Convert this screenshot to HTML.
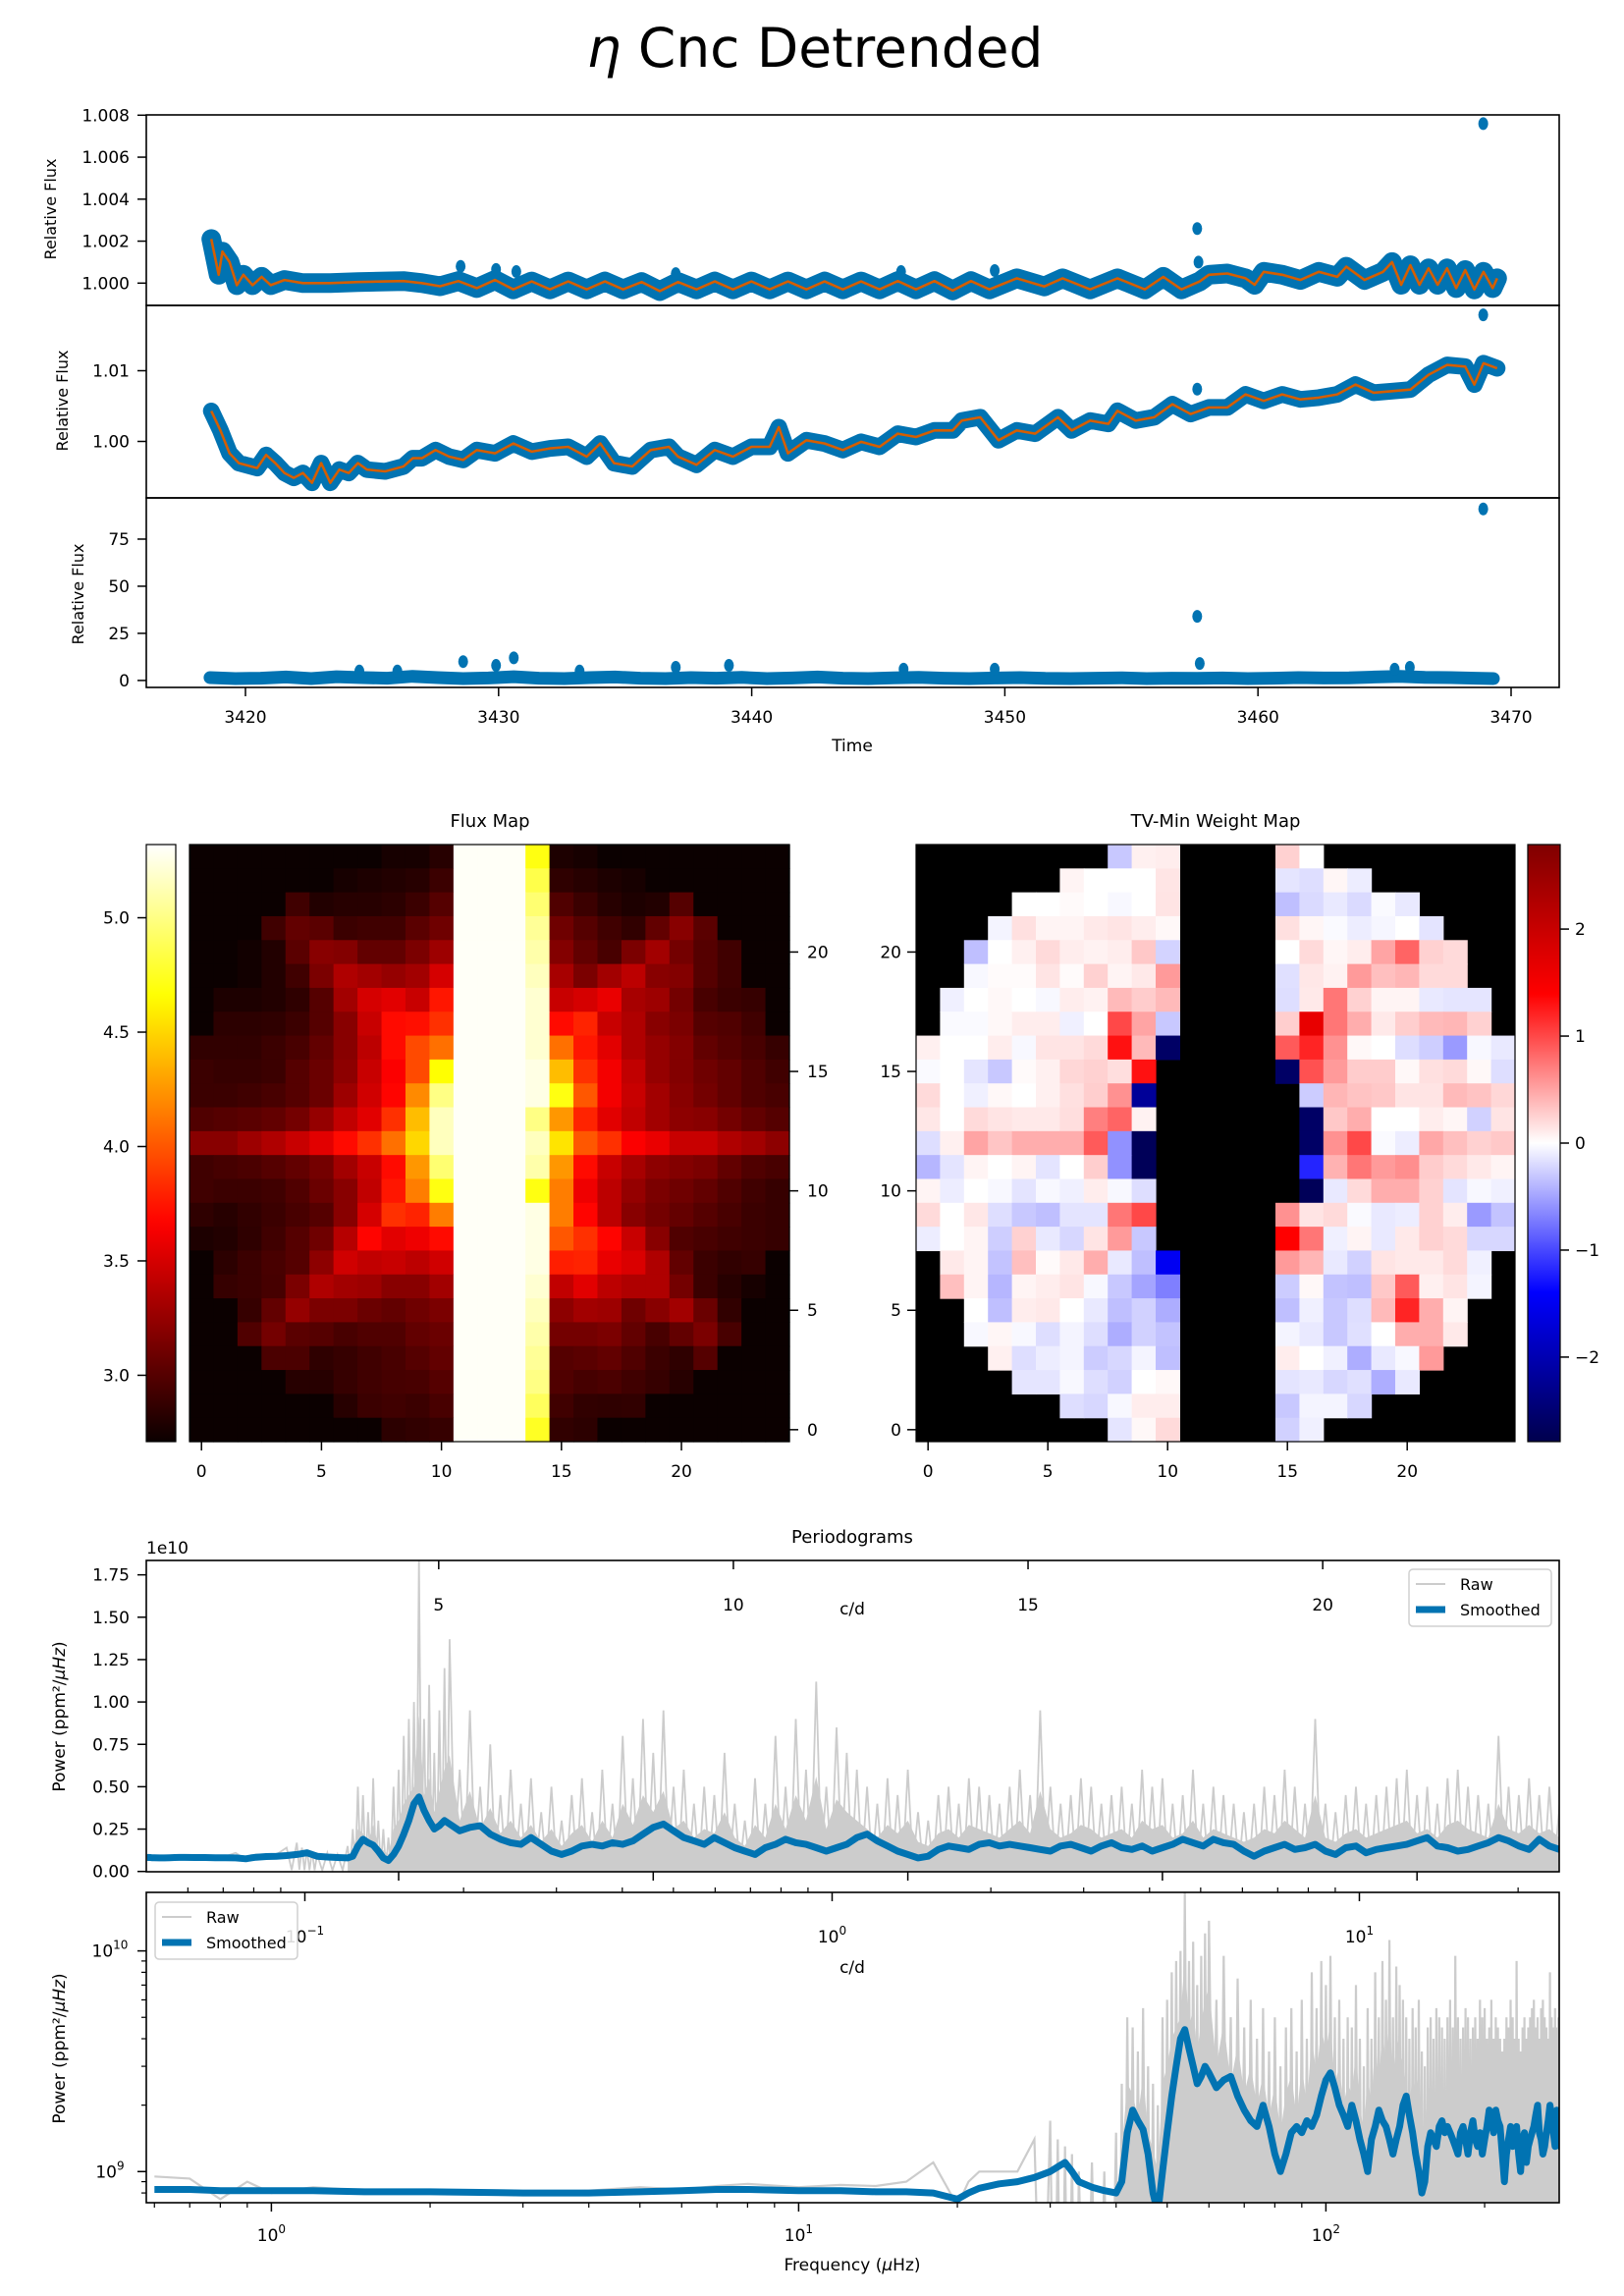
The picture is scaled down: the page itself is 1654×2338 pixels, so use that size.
<!DOCTYPE html>
<html><head><meta charset="utf-8"><title>eta Cnc Detrended</title>
<style>
html,body{margin:0;padding:0;width:1654px;height:2338px;overflow:hidden;background:#fff}
svg{display:block;font-family:"DejaVu Sans","Liberation Sans",sans-serif}
</style></head>
<body>
<svg id="fig" xmlns="http://www.w3.org/2000/svg" width="1654" height="2338" viewBox="0 0 1654 2338">
<defs>
<clipPath id="c1"><rect x="149" y="117" width="1439" height="194"/></clipPath>
<clipPath id="c2"><rect x="149" y="311" width="1439" height="196"/></clipPath>
<clipPath id="c3"><rect x="149" y="507" width="1439" height="193"/></clipPath>
<clipPath id="cpa"><rect x="149" y="1589" width="1439" height="317"/></clipPath>
<clipPath id="cpb"><rect x="149" y="1927" width="1439" height="316"/></clipPath>
</defs>
<rect x="0" y="0" width="1654" height="2338" fill="#fff"/>
<text x="830" y="68" font-size="55" text-anchor="middle"><tspan font-style="italic">η</tspan> Cnc Detrended</text>
<text x="868" y="765" font-size="17" text-anchor="middle">Time</text>
<text x="499" y="842" font-size="18" text-anchor="middle">Flux Map</text>
<text x="1238" y="842" font-size="18" text-anchor="middle">TV-Min Weight Map</text>
<text x="868" y="1571" font-size="18" text-anchor="middle">Periodograms</text>
<text x="149" y="1582" font-size="17">1e10</text>
<text x="868" y="1644" font-size="17" text-anchor="middle">c/d</text>
<text x="868" y="2009" font-size="17" text-anchor="middle">c/d</text>
<text x="868" y="2312" font-size="17" text-anchor="middle">Frequency (<tspan font-style="italic">μ</tspan>Hz)</text>
<text transform="translate(66,1748) rotate(-90)" font-size="17" text-anchor="middle">Power (ppm²/<tspan font-style="italic">μHz</tspan>)</text>
<text transform="translate(66,2086) rotate(-90)" font-size="17" text-anchor="middle">Power (ppm²/<tspan font-style="italic">μHz</tspan>)</text>
<text transform="translate(57,213) rotate(-90)" font-size="16" text-anchor="middle">Relative Flux</text>
<text transform="translate(69,408) rotate(-90)" font-size="16" text-anchor="middle">Relative Flux</text>
<text transform="translate(85,605) rotate(-90)" font-size="16" text-anchor="middle">Relative Flux</text>
</svg>
<script>
// ---------------- DATA ----------------
const lc1Times=[3418.65,3418.94,3419.09,3419.37,3419.66,3419.92,3420.28,3420.64,3421.0,3421.54,3422.27,3423.35,3424.44,3425.52,3426.24,3426.97,3427.69,3428.41,3429.14,3429.86,3430.58,3431.31,3432.03,3432.75,3433.48,3434.2,3434.92,3435.65,3436.37,3437.09,3437.82,3438.54,3439.26,3439.99,3440.71,3441.43,3442.16,3442.88,3443.6,3444.32,3445.05,3445.77,3446.49,3447.22,3447.94,3448.66,3449.39,3450.47,3451.56,3452.28,3453.37,3454.45,3455.53,3456.26,3456.98,3457.7,3458.06,3458.79,3459.51,3459.87,3460.23,3460.96,3461.68,3462.4,3463.13,3463.49,3464.21,3464.94,3465.3,3465.66,3466.02,3466.38,3466.74,3467.1,3467.47,3467.83,3468.19,3468.55,3468.91,3469.27,3469.45];
const lc1Values=[2.1,0.4,1.5,1.0,-0.1,0.4,-0.1,0.3,-0.1,0.15,0.0,0.0,0.05,0.08,0.1,0.0,-0.15,0.1,-0.24,0.15,-0.3,0.08,-0.3,0.08,-0.3,0.08,-0.3,0.05,-0.38,0.05,-0.3,0.08,-0.3,0.08,-0.3,0.08,-0.3,0.08,-0.3,0.08,-0.3,0.1,-0.3,0.1,-0.35,0.1,-0.3,0.23,-0.16,0.23,-0.3,0.23,-0.3,0.3,-0.3,0.08,0.4,0.46,0.23,-0.08,0.54,0.4,0.15,0.54,0.3,0.78,0.15,0.54,1.0,-0.08,0.85,-0.08,0.7,-0.08,0.7,-0.24,0.62,-0.3,0.54,-0.24,0.23];
const lc1OutTimes=[3428.5,3429.9,3430.7,3437.0,3445.9,3449.6,3457.6,3457.65,3468.9];
const lc1OutValues=[0.8,0.65,0.55,0.45,0.55,0.6,2.6,1.0,7.6];
const lc2Times=[3418.65,3419.01,3419.37,3419.74,3420.46,3420.82,3421.18,3421.54,3421.91,3422.27,3422.63,3422.99,3423.35,3423.71,3424.08,3424.44,3424.8,3425.52,3426.24,3426.61,3426.97,3427.51,3428.05,3428.6,3429.14,3429.86,3430.58,3431.31,3432.03,3432.75,3433.48,3434.02,3434.56,3435.28,3436.01,3436.73,3437.09,3437.82,3438.54,3439.26,3439.99,3440.71,3441.07,3441.43,3442.16,3442.88,3443.6,3444.32,3445.05,3445.77,3446.49,3447.22,3447.94,3448.3,3449.03,3449.75,3450.47,3451.2,3452.1,3452.64,3453.37,3454.09,3454.45,3455.17,3455.9,3456.62,3457.34,3458.07,3458.79,3459.51,3460.23,3460.96,3461.68,3462.4,3463.13,3463.85,3464.57,3465.3,3466.02,3466.74,3467.47,3468.19,3468.55,3468.91,3469.45];
const lc2Values=[4.31,1.56,-1.68,-3.07,-3.77,-1.92,-3.07,-4.46,-5.15,-4.46,-5.85,-3.07,-5.85,-3.99,-4.46,-3.07,-3.99,-4.23,-3.54,-2.38,-2.38,-1.22,-2.15,-2.61,-1.22,-1.68,-0.29,-1.45,-0.99,-0.76,-2.15,-0.29,-3.07,-3.54,-1.22,-0.76,-2.15,-3.31,-1.22,-2.15,-0.76,-0.76,2.02,-1.68,0.17,-0.29,-1.22,-0.06,-0.76,1.1,0.63,1.56,1.56,2.95,3.41,0.17,1.56,1.1,3.41,1.56,2.95,2.48,4.34,2.95,3.41,5.26,3.87,4.8,4.8,6.65,5.73,6.65,5.95,6.19,6.65,8.04,6.89,7.11,7.34,9.43,10.82,10.59,8.04,11.05,10.35];
const lc2OutTimes=[3457.6,3468.9];
const lc2OutValues=[7.4,17.9];
const lc3Times=[3418.6,3419.6,3420.6,3421.6,3422.6,3423.6,3424.6,3425.6,3426.6,3427.6,3428.6,3429.6,3430.6,3431.6,3432.6,3433.6,3434.6,3435.6,3436.6,3437.6,3438.6,3439.6,3440.6,3441.6,3442.6,3443.6,3444.6,3445.6,3446.6,3447.6,3448.6,3449.6,3450.6,3451.6,3452.6,3453.6,3454.6,3455.6,3456.6,3457.6,3458.6,3459.6,3460.6,3461.6,3462.6,3463.6,3464.6,3465.6,3466.6,3467.6,3468.6,3469.3];
const lc3Values=[1.5,1,1.2,1.8,1,2,1.5,1.2,2.2,1.5,1,1.3,2,1.2,1,1.5,1.8,1.2,1,1.5,1.2,1.6,1,1.3,1.8,1.2,1,1.4,1.6,1.2,1,1.3,1.5,1.1,1,1.2,1.4,1,1.2,1.1,1.3,1,1.2,1.5,1.3,1.4,1.8,2.2,1.6,1.5,1.2,1.0];
const lc3OutTimes=[3424.5,3426,3428.6,3429.9,3430.6,3433.2,3437,3439.1,3446,3449.6,3457.6,3457.7,3465.4,3466,3468.9];
const lc3OutValues=[5,5,10,8,12,5,7,8,6,6,34,9,6,7,91];
const timeTicks=[3420,3430,3440,3450,3460,3470];
const lc1Ticks=[0,2,4,6,8], lc1TickLabels=['1.000','1.002','1.004','1.006','1.008'];
const lc2Ticks=[0,10], lc2TickLabels=['1.00','1.01'];
const lc3Ticks=[0,25,50,75];

const B=2.7, W=5.3, _=null;
const fluxRows=[
[B,B,B,B,B,B,B,B,2.76,2.76,2.82,W,W,W,4.7,2.78,2.76,B,B,B,B,B,B,B,B],
[B,B,B,B,B,B,2.76,2.78,2.8,2.82,2.9,W,W,W,4.85,2.85,2.82,2.78,2.76,B,B,B,B,B,B],
[B,B,B,B,2.92,2.8,2.82,2.82,2.84,2.9,3.0,W,W,W,4.95,2.98,2.9,2.82,2.78,2.8,3.0,B,B,B,B],
[B,B,B,2.92,3.05,3.02,2.9,2.92,2.92,3.02,3.1,W,W,W,5.05,3.1,3.0,2.92,2.86,3.05,3.2,3.02,B,B,B],
[B,B,2.74,2.8,3.02,3.2,3.18,3.05,3.05,3.15,3.28,W,W,W,5.1,3.18,3.05,2.95,3.15,3.3,3.12,3.0,2.92,B,B],
[B,B,2.74,2.8,2.92,3.15,3.35,3.3,3.25,3.3,3.5,W,W,W,5.15,3.32,3.15,3.3,3.4,3.2,3.18,3.0,2.92,B,B],
[B,2.78,2.78,2.8,2.85,3.0,3.3,3.5,3.55,3.45,3.75,W,W,W,5.2,3.45,3.5,3.58,3.32,3.28,3.12,2.95,2.9,2.88,B],
[B,2.84,2.84,2.85,2.9,3.0,3.2,3.45,3.7,3.72,3.85,W,W,W,5.2,3.7,3.8,3.45,3.35,3.2,3.15,3.0,2.98,2.92,B],
[2.86,2.86,2.86,2.9,2.95,3.05,3.2,3.4,3.7,3.95,4.1,W,W,W,5.2,4.1,3.75,3.55,3.35,3.25,3.18,3.05,3.0,2.95,2.88],
[2.9,2.88,2.88,2.9,3.0,3.08,3.22,3.45,3.65,3.95,4.66,W,W,W,5.25,4.4,3.85,3.62,3.42,3.25,3.18,3.1,3.05,2.98,2.92],
[2.9,2.9,2.92,2.95,3.0,3.08,3.28,3.48,3.68,4.2,5.0,W,W,W,5.25,4.7,4.0,3.62,3.45,3.3,3.2,3.12,3.05,2.98,2.95],
[2.98,3.0,3.02,3.05,3.12,3.25,3.42,3.55,3.85,4.4,5.15,W,W,W,5.0,4.25,3.8,3.55,3.42,3.3,3.22,3.2,3.12,3.05,3.0],
[3.2,3.2,3.28,3.35,3.45,3.55,3.7,3.85,4.1,4.5,5.15,W,W,W,5.15,4.55,4.0,3.85,3.65,3.58,3.45,3.45,3.35,3.3,3.22],
[2.92,2.94,2.96,3.0,3.05,3.12,3.3,3.45,3.7,4.25,4.95,W,W,W,5.1,4.25,3.7,3.45,3.32,3.22,3.18,3.15,3.05,2.98,2.95],
[2.92,2.9,2.9,2.92,2.98,3.08,3.2,3.42,3.75,4.15,4.7,W,W,W,4.7,4.15,3.6,3.4,3.25,3.15,3.1,3.05,2.98,2.92,2.88],
[2.85,2.82,2.86,2.9,2.95,3.0,3.2,3.5,3.85,3.8,4.15,W,W,W,5.25,4.15,3.68,3.4,3.2,3.12,3.06,3.0,2.95,2.9,2.88],
[2.78,2.8,2.85,2.92,3.0,3.1,3.38,3.68,3.55,3.6,3.7,W,W,W,5.25,4.0,3.85,3.68,3.45,3.2,2.98,2.95,2.92,2.9,2.88],
[B,2.84,2.9,2.95,3.0,3.22,3.48,3.42,3.45,3.4,3.48,W,W,W,5.25,3.78,3.8,3.58,3.52,3.35,3.05,2.9,2.86,2.88,B],
[B,2.88,2.9,2.94,3.15,3.35,3.3,3.28,3.2,3.2,3.3,W,W,W,5.2,3.42,3.55,3.4,3.35,3.35,3.12,2.9,2.82,2.76,B],
[B,B,2.88,3.05,3.25,3.15,3.15,3.08,3.05,3.1,3.15,W,W,W,5.15,3.22,3.3,3.28,3.1,3.2,3.3,3.08,2.86,B,B],
[B,B,2.98,3.12,3.02,3.0,2.95,2.98,2.98,3.05,3.08,W,W,W,5.1,3.12,3.12,3.15,3.05,2.95,3.05,3.15,2.95,B,B],
[B,B,B,2.96,2.96,2.85,2.88,2.92,2.95,3.0,3.05,W,W,W,5.05,3.0,3.02,3.05,2.98,2.9,2.85,3.0,B,B,B],
[B,B,B,B,2.82,2.82,2.88,2.92,2.94,2.95,3.0,W,W,W,5.0,2.98,2.94,2.96,2.92,2.88,2.82,B,B,B,B],
[B,B,B,B,B,B,2.82,2.9,2.92,2.9,2.95,W,W,W,4.9,2.92,2.86,2.85,2.86,B,B,B,B,B,B],
[B,B,B,B,B,B,B,B,2.84,2.86,2.88,W,W,W,4.75,2.86,2.84,B,B,B,B,B,B,B,B]];
const fluxMin=2.71, fluxMax=5.32;
const fluxCbTicks=[3.0,3.5,4.0,4.5,5.0], fluxCbLabels=['3.0','3.5','4.0','4.5','5.0'];

const weightRows=[
[_,_,_,_,_,_,_,_,-.3,.08,.1,_,_,_,_,.25,0,_,_,_,_,_,_,_,_],
[_,_,_,_,_,_,.06,0,0,0,.14,_,_,_,_,-.14,-.18,.05,-.1,_,_,_,_,_,_],
[_,_,_,_,0,0,.03,0,-.04,0,.15,_,_,_,_,-.35,-.2,-.12,-.2,-.03,-.12,_,_,_,_],
[_,_,_,-.06,.17,.06,.06,.12,.15,.1,.04,_,_,_,_,.17,.05,-.03,-.1,-.05,0,-.15,_,_,_],
[_,_,-.35,0,.08,.2,.1,.07,.1,.3,-.24,_,_,_,_,0,.2,.05,.1,.5,.85,.25,.2,_,_],
[_,_,-.04,.02,.02,.15,.02,.25,.06,.12,.55,_,_,_,_,-.17,.13,.07,.55,.35,.4,.2,.2,_,_],
[_,-.08,0,.04,0,-.04,.1,.07,.38,.28,.38,_,_,_,_,-.18,.12,.75,.25,.06,.06,-.12,-.14,-.14,_],
[_,-.03,-.03,.04,.1,.1,-.08,0,1.0,.5,-.3,_,_,_,_,.27,1.65,.75,.45,.12,.27,.38,.4,.25,_],
[.08,0,0,.1,-.04,.15,.15,.2,1.3,.38,-2.6,_,_,_,_,.9,1.2,.6,.04,0,-.18,-.27,-.55,-.04,-.12],
[-.03,0,-.14,-.3,.03,.08,.22,.25,.18,1.3,_,_,_,_,_,-2.6,.95,.55,.28,.28,.04,.17,.2,.04,-.18],
[.2,0,-.08,.04,0,.08,.17,.27,.6,-2.2,_,_,_,_,_,_,-.28,.4,.33,.3,.15,.15,.38,.33,.22],
[.13,0,.2,.15,.12,.12,.18,.7,.85,.07,_,_,_,_,_,_,-2.6,.3,.45,0,0,.1,.05,-.25,.15],
[-.18,.08,.5,.32,.45,.45,.45,.9,-.6,-2.7,_,_,_,_,_,_,-2.6,.6,1.0,-.03,-.1,.48,.35,.25,.3],
[-.4,-.15,.06,0,.06,-.15,0,.27,-.6,-2.7,_,_,_,_,_,_,-1.2,.42,.75,.55,.62,.28,.2,.12,.06],
[.06,-.1,0,-.04,-.15,-.04,-.08,.1,-.04,-.18,_,_,_,_,_,_,-2.7,-.12,.2,.45,.45,.25,-.15,-.04,-.08],
[.2,0,.13,-.18,-.3,-.35,-.15,-.15,.75,1.0,_,_,_,_,_,.6,.15,.2,-.03,-.12,-.1,.25,.1,-.55,-.33],
[-.1,0,.06,-.27,.25,-.12,-.22,.15,.55,-.3,_,_,_,_,_,1.4,.75,-.08,.06,-.12,.12,.25,.2,-.22,-.22],
[_,.12,.06,-.33,.35,.03,.12,.45,-.12,-.35,-1.5,_,_,_,_,.55,.4,-.12,-.25,.15,.12,.12,.2,-.08,_],
[_,.35,.06,-.4,.06,.1,.15,-.04,-.3,-.5,-.7,_,_,_,_,-.28,.04,-.33,-.35,.3,.9,.08,.15,-.06,_],
[_,_,0,-.35,.1,.12,0,-.12,-.35,-.25,-.45,_,_,_,_,-.35,-.08,-.3,-.18,.38,1.2,.45,.06,_,_],
[_,_,-.04,.05,-.04,-.18,-.06,-.18,-.45,-.25,-.33,_,_,_,_,-.06,-.12,-.3,-.17,0,.45,.45,.12,_,_],
[_,_,_,.08,-.18,-.1,-.06,-.28,-.22,-.06,-.35,_,_,_,_,.1,0,-.08,-.45,-.12,-.04,.55,_,_,_],
[_,_,_,_,-.14,-.14,-.04,-.18,-.25,0,.04,_,_,_,_,-.15,-.12,-.22,-.17,-.45,-.12,_,_,_,_],
[_,_,_,_,_,_,-.18,-.22,-.04,.1,.1,_,_,_,_,-.3,-.06,-.06,-.22,_,_,_,_,_,_],
[_,_,_,_,_,_,_,_,-.14,.04,.2,_,_,_,_,-.25,-.08,_,_,_,_,_,_,_,_]];
const weightLim=2.79;
const weightCbTicks=[2,1,0,-1,-2], weightCbLabels=['2','1','0','−1','−2'];
const pixelTicks=[0,5,10,15,20];

const freqLow=[0.6,0.7,0.8,0.9,1,1.2,1.5,2,3,4,5,6,7,8,10,12,14,16,18,20,21,22,24,26,28,30,31,32,33,34,36,38,40,41,42,43,44,45,46,47,48,49,50,51,52,53,54,55,56,57,58,59,60];
const rawLow=[.095,.093,.075,.09,.08,.085,.082,.08,.08,.082,.085,.083,.086,.088,.085,.087,.086,.09,.11,.07,.09,.1,.1,.1,.14,.17,.14,.13,.12,.1,.11,.1,.15,.25,.5,.45,.35,.55,.3,.25,.2,.5,.6,.8,.9,1.0,1.84,.9,1.1,.7,.95,1.2,1.37];
const smoothLow=[.083,.083,.082,.082,.082,.082,.081,.081,.08,.08,.081,.082,.083,.083,.082,.082,.081,.081,.08,.075,.08,.084,.088,.09,.094,.1,.105,.11,.1,.09,.085,.082,.08,.09,.15,.19,.17,.155,.12,.08,.065,.1,.15,.22,.3,.4,.44,.36,.3,.25,.27,.3,.28];
const freqHighStart=62, freqHighStep=2;
const rawHigh=[.6,.95,.5,.75,.45,.6,.4,.55,.35,.5, .3,.45,.55,.35,.6,.4,.8,.55,.9,.7, .95,.5,.6,.4,.5,.45,.7,.4,.3,.55, .4,.8,.5,.9,.6,1.12,.5,.85,.7,.6, .5,.4,.55,.45,.6,.35,.3,.45,.5,.4, .55,.5,.45,.4,.5,.6,.45,.95,.5,.4, .45,.55,.5,.4,.45,.5,.4,.6,.5,.55, .4,.45,.6,.4,.5,.45,.4,.35,.4,.5, .45,.6,.5,.4,.9,.4,.35,.45,.5,.4, .45,.5,.55,.6,.45,.5,.4,.55,.6,.5, .45,.4,.8,.5,.45,.55,.45,.5,.4,.45];
const smoothHigh=[.24,.26,.27,.22,.19,.17,.16,.2,.16,.12, .1,.12,.15,.16,.15,.17,.16,.18,.22,.26, .28,.24,.2,.18,.16,.2,.17,.14,.12,.1, .14,.16,.19,.17,.16,.14,.12,.14,.16,.2, .22,.18,.15,.12,.1,.08,.09,.13,.15,.14, .13,.16,.17,.15,.16,.15,.14,.13,.12,.15, .16,.14,.12,.15,.17,.14,.13,.15,.12,.14, .16,.19,.17,.15,.19,.17,.16,.12,.09,.12, .14,.16,.13,.14,.16,.12,.1,.14,.15,.11, .13,.14,.15,.16,.18,.2,.15,.14,.12,.13, .15,.17,.2,.18,.15,.13,.19,.15,.13,.14];
const linPowerTicks=[0,.25,.5,.75,1,1.25,1.5,1.75], linPowerLabels=['0.00','0.25','0.50','0.75','1.00','1.25','1.50','1.75'];
const linFreqTicks=[50,100,150,200,250];
const cdLinTicks=[5,10,15,20];
const cdLogTicks=[-1,0,1];
const logFreqTicks=[0,1,2];
const logPowerTicks=[9,10];

// ---------------- HELPERS ----------------
const NS='http://www.w3.org/2000/svg';
const svg=document.getElementById('fig');
const defs=svg.querySelector('defs');
function mk(tag,attrs,parent){const e=document.createElementNS(NS,tag);for(const k in attrs)e.setAttribute(k,attrs[k]);(parent||svg).appendChild(e);return e;}
function txt(s,x,y,size,anchor,parent){const t=mk('text',{x:x,y:y,'font-size':size,'text-anchor':anchor||'middle'},parent);t.textContent=s;return t;}
function pts(xs,ys,fx,fy){return xs.map((v,i)=>fx(v).toFixed(1)+','+fy(ys[i]).toFixed(1)).join(' ');}
const BLUE='#0173b2', ORANGE='#d55e00', GRAY='#cccccc';
function clamp(v){return Math.max(0,Math.min(1,v));}
function hot(t){t=clamp(t);const r=clamp(0.0416+t/0.365*0.9584),g=clamp((t-0.365)/0.381),b=clamp((t-0.746)/0.254);return `rgb(${Math.round(r*255)},${Math.round(g*255)},${Math.round(b*255)})`;}
function seismic(t){t=clamp(t);let r,g,b;if(t<0.25){r=0;g=0;b=0.3+2.8*t;}else if(t<0.5){r=g=(t-0.25)*4;b=1;}else if(t<0.75){r=1;g=b=1-(t-0.5)*4;}else{r=1-(t-0.75)*2;g=b=0;}return `rgb(${Math.round(r*255)},${Math.round(g*255)},${Math.round(b*255)})`;}
function hline(x1,y1,x2,y2,w,parent){return mk('line',{x1:x1,y1:y1,x2:x2,y2:y2,stroke:'#000','stroke-width':w||1.5},parent);}

// ---------------- LIGHT CURVES ----------------
const tx=t=>250+(t-3420)*25.78;
const y1=v=>288.3-v*21.375;
const y2=v=>449.5-v*7.2;
const y3=v=>692.9-v*1.919;
function lcPanel(name,clip,times,vals,fy,outT,outV,band,withLine,top,bottom,ticks,labels){
  const g=mk('g',{'clip-path':'url(#'+clip+')'});
  
  
  const bl=mk('polyline',{points:pts(times,vals,tx,fy),fill:'none',stroke:BLUE,'stroke-width':band,'stroke-linejoin':'round','stroke-linecap':'round'},g);
  
  
  outT.forEach((t,i)=>{const c=mk('ellipse',{cx:tx(t),cy:fy(outV[i]),rx:5,ry:6.5,fill:BLUE},g);
    
    });
  if(withLine){const ol=mk('polyline',{points:pts(times,vals,tx,fy),fill:'none',stroke:ORANGE,'stroke-width':2.6,'stroke-linejoin':'round'},g);
    
    }
  const fr=mk('rect',{x:149,y:top,width:1439,height:bottom-top,fill:'none',stroke:'#000','stroke-width':1.6});
  
  
  ticks.forEach((v,i)=>{const y=fy(v);const l=hline(140,y,149,y,1.5);
    
    
    const t=txt(labels[i],132,y+6,17,'end');
    
    });
}
lcPanel('lightcurve-detrended','c1',lc1Times,lc1Values,y1,lc1OutTimes,lc1OutValues,20,true,117,311,lc1Ticks,lc1TickLabels);
lcPanel('lightcurve-raw','c2',lc2Times,lc2Values,y2,lc2OutTimes,lc2OutValues,17,true,311,507,lc2Ticks,lc2TickLabels);
lcPanel('lightcurve-residual','c3',lc3Times,lc3Values,y3,lc3OutTimes,lc3OutValues,13,false,507,700,lc3Ticks,lc3Ticks.map(String));
timeTicks.forEach(t=>{const x=tx(t);const l=hline(x,700,x,709,1.5);
  
  
  const s=txt(String(t),x,736,17,'middle');
  
  });

// ---------------- HEATMAPS ----------------
function heatmap(name,rows,x0,x1,y0,y1,colorFn,bg){
  const cw=(x1-x0)/25,ch=(y1-y0)/25;
  const g=mk('g',{});
  
  
  const b=mk('rect',{x:x0,y:y0,width:x1-x0,height:y1-y0,fill:bg},g);
  
  
  rows.forEach((row,ri)=>{const r=24-ri;row.forEach((v,c)=>{if(v===null)return;
    const rc=mk('rect',{x:(x0+c*cw).toFixed(2),y:(y1-(r+1)*ch).toFixed(2),width:(cw+0.6).toFixed(2),height:(ch+0.6).toFixed(2),fill:colorFn(v)},g);
    
    });});
  const fr=mk('rect',{x:x0,y:y0,width:x1-x0,height:y1-y0,fill:'none',stroke:'#000','stroke-width':1.2});
  
  
  pixelTicks.forEach(k=>{const x=x0+(k+0.5)*cw;const l=hline(x,y1,x,y1+9,1.5);
    
    
    const t=txt(String(k),x,1504,17,'middle');
    
    });
  return {cw,ch};
}
const fm=heatmap('flux-map',fluxRows,193,804,860,1468,v=>hot((v-fluxMin)/(fluxMax-fluxMin)),'#000');
pixelTicks.forEach(k=>{const y=1468-(k+0.5)*fm.ch;const l=hline(804,y,813,y,1.5);
  
  
  const t=txt(String(k),822,y+6,17,'start');
  
  });
const wm=heatmap('weight-map',weightRows,933,1543,860,1468,v=>seismic((v+weightLim)/(2*weightLim)),'#000');
pixelTicks.forEach(k=>{const y=1468-(k+0.5)*wm.ch;const l=hline(924,y,933,y,1.5);
  
  
  const t=txt(String(k),918,y+6,17,'end');
  
  });

function gradient(id,fn){const lg=mk('linearGradient',{id:id,x1:0,y1:0,x2:0,y2:1},defs);
  for(let i=0;i<=40;i++){mk('stop',{offset:(i/40),'stop-color':fn(1-i/40)},lg);}}
gradient('gHot',hot);gradient('gSeis',seismic);
const cb1=mk('rect',{x:149,y:860,width:30,height:608,fill:'url(#gHot)',stroke:'#000','stroke-width':1.2});


fluxCbTicks.forEach((v,i)=>{const y=1468-(v-fluxMin)/(fluxMax-fluxMin)*608;const l=hline(140,y,149,y,1.5);
  
  
  const t=txt(fluxCbLabels[i],132,y+6,17,'end');
  
  });
const cb2=mk('rect',{x:1556,y:860,width:33,height:608,fill:'url(#gSeis)',stroke:'#000','stroke-width':1.2});


weightCbTicks.forEach((v,i)=>{const y=1468-(v+weightLim)/(2*weightLim)*608;const l=hline(1589,y,1598,y,1.5);
  
  
  const t=txt(weightCbLabels[i],1604,y+6,17,'start');
  
  });

// ---------------- PERIODOGRAMS ----------------
const freqAll=freqLow.slice(), rawAll=rawLow.slice(), smoothAll=smoothLow.slice();
smoothHigh.forEach((v,i)=>{freqAll.push(freqHighStart+i*freqHighStep);rawAll.push(rawHigh[i]);smoothAll.push(v);});
function rawPts(fx,fy){const out=[];for(let i=0;i<freqAll.length;i++){const f=freqAll[i];out.push(fx(f).toFixed(1)+','+fy(rawAll[i]).toFixed(1));
  if(f>=28&&i<freqAll.length-1){const fm2=(f+freqAll[i+1])/2;out.push(fx(fm2).toFixed(1)+','+fy(Math.max(rawAll[i]*0.06,0.005)).toFixed(1));}}return out.join(' ');}
function fillPts(fx,fy,base){const out=[];let first=null,last=null;for(let i=0;i<freqAll.length;i++){const f=freqAll[i];if(f<40)continue;if(first===null)first=f;last=f;out.push(fx(f).toFixed(1)+','+fy(rawAll[i]*0.5).toFixed(1));}
  out.push(fx(last).toFixed(1)+','+base);out.unshift(fx(first).toFixed(1)+','+base);return out.join(' ');}
const lfx=f=>146.7+f*5.186;
const lpy=v=>1905.7-v*172.6;
const ga=mk('g',{'clip-path':'url(#cpa)'});


const fla=mk('polygon',{points:fillPts(lfx,lpy,1906),fill:GRAY,stroke:'none'},ga);


const ra=mk('polyline',{points:rawPts(lfx,lpy),fill:'none',stroke:GRAY,'stroke-width':1.8},ga);


const sa=mk('polyline',{points:pts(freqAll,smoothAll,lfx,lpy),fill:'none',stroke:BLUE,'stroke-width':7,'stroke-linejoin':'round'},ga);


const fa=mk('rect',{x:149,y:1589,width:1439,height:317,fill:'none',stroke:'#000','stroke-width':1.6});


linPowerTicks.forEach((v,i)=>{const y=lpy(v);const l=hline(140,y,149,y,1.5);
  
  
  const t=txt(linPowerLabels[i],132,y+6,17,'end');
  
  });
linFreqTicks.forEach(f=>{const x=lfx(f);const l=hline(x,1906,x,1915,1.5);
  
  });
cdLinTicks.forEach(c=>{const x=lfx(c*11.574);const l=hline(x,1589,x,1598,1.5);
  
  
  const t=txt(String(c),x,1640,17,'middle');
  
  });
const gfx=f=>276.4+537*Math.log10(f);
const gpy=v=>1986.6-224.7*Math.log10(v);
const gb=mk('g',{'clip-path':'url(#cpb)'});


const flb=mk('polygon',{points:fillPts(gfx,gpy,2243),fill:GRAY,stroke:'none'},gb);


const rb=mk('polyline',{points:rawPts(gfx,gpy),fill:'none',stroke:GRAY,'stroke-width':2.2},gb);


const sb=mk('polyline',{points:pts(freqAll,smoothAll,gfx,gpy),fill:'none',stroke:BLUE,'stroke-width':7,'stroke-linejoin':'round'},gb);


const fb=mk('rect',{x:149,y:1927,width:1439,height:316,fill:'none',stroke:'#000','stroke-width':1.6});


function supLabel(base,exp,x,y,name){const t=mk('text',{x:x,y:y,'font-size':17,'text-anchor':'middle'});
  
  
  const a=mk('tspan',{},t);a.textContent=base;const b=mk('tspan',{dy:-8,'font-size':12},t);b.textContent=exp;return t;}
logPowerTicks.forEach(p=>{const y=gpy(Math.pow(10,p-10));const l=hline(140,y,149,y,1.5);
  
  
  supLabel('10',String(p),112,y+6,'log-power-tick-label');});
[0.08,0.09,0.2,0.3,0.4,0.5,0.6,0.7,0.8,0.9].forEach(v=>{const y=gpy(v);const l=hline(144,y,149,y,1.2);
  
  });
logFreqTicks.forEach(p=>{const x=gfx(Math.pow(10,p));const l=hline(x,2243,x,2252,1.5);
  
  
  supLabel('10',String(p),x,2282,'log-frequency-tick-label');});
[0.6,0.7,0.8,0.9,2,3,4,5,6,7,8,9,20,30,40,50,60,70,80,90,200].forEach(f=>{const x=gfx(f);const l=hline(x,2243,x,2248,1.2);
  
  });
cdLogTicks.forEach(p=>{const x=gfx(Math.pow(10,p)*11.574);const l=hline(x,1927,x,1936,1.5);
  
  
  supLabel('10',p<0?'−1':String(p),x,1978,'log-cd-tick-label');});
[0.06,0.07,0.08,0.09,0.2,0.3,0.4,0.5,0.6,0.7,0.8,0.9,2,3,4,5,6,7,8,9,20].forEach(c=>{const x=gfx(c*11.574);if(x<149||x>1588)return;const l=hline(x,1922,x,1927,1.2);
  
  });

function legend(name,x,y){const g=mk('g',{});
  
  
  const r=mk('rect',{x:x,y:y,width:145,height:58,rx:4,fill:'#fff','fill-opacity':0.85,stroke:'#d0d0d0','stroke-width':1.5},g);
  
  
  const l1=mk('line',{x1:x+7,y1:y+15,x2:x+37,y2:y+15,stroke:GRAY,'stroke-width':2},g);
  
  
  const t1=txt('Raw',x+52,y+21,16,'start',g);
  
  
  const l2=mk('line',{x1:x+7,y1:y+41,x2:x+37,y2:y+41,stroke:BLUE,'stroke-width':7},g);
  
  
  const t2=txt('Smoothed',x+52,y+47,16,'start',g);
  
  }
legend('legend-linear',1435,1598);
legend('legend-log',158,1937);
</script>
</body></html>
